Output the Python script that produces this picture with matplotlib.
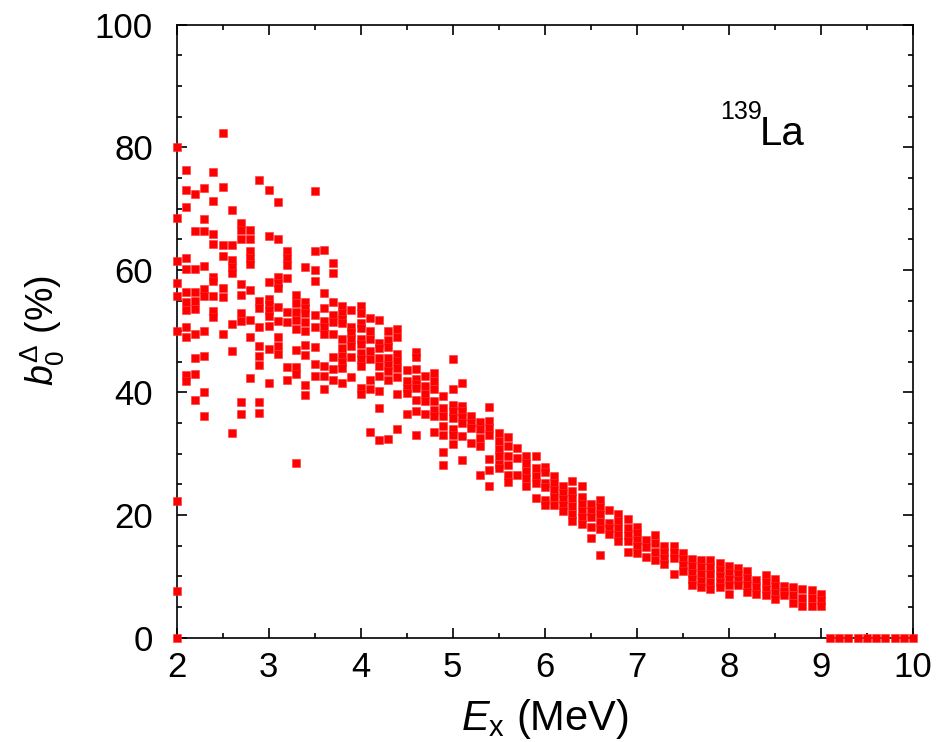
import numpy as np
import matplotlib
matplotlib.use("Agg")
from matplotlib import pyplot as plt
from matplotlib.ticker import MultipleLocator

plt.rcParams['font.family'] = ['Liberation Sans', 'DejaVu Sans']
plt.rcParams['mathtext.fontset'] = 'custom'
plt.rcParams['mathtext.rm'] = 'Liberation Sans'
plt.rcParams['mathtext.it'] = 'Liberation Sans:italic'

# excitation energy grid, MeV (0.1 MeV bins)
ex_low = [2.0, 2.1, 2.2, 2.3, 2.4, 2.5, 2.6, 2.7, 2.8, 2.9, 3.0,
          3.1, 3.2, 3.3, 3.4, 3.5, 3.6, 3.7, 3.8, 3.9, 4.0]
ex_mid = [4.1, 4.2, 4.3, 4.4, 4.5, 4.6, 4.7, 4.8, 4.9, 5.0,
          5.1, 5.2, 5.3, 5.4, 5.5, 5.6, 5.7, 5.8, 5.9, 6.0]
ex_high = [6.1, 6.2, 6.3, 6.4, 6.5, 6.6, 6.7, 6.8, 6.9, 7.0,
           7.1, 7.2, 7.3, 7.4, 7.5, 7.6, 7.7, 7.8, 7.9, 8.0,
           8.1, 8.2, 8.3, 8.4, 8.5, 8.6, 8.7, 8.8, 8.9, 9.0]
ex_tail = [9.1, 9.2, 9.3, 9.4, 9.5, 9.6, 9.7, 9.8, 9.9, 10.0]

# b0 (%) values found in each bin
b0_low = [
    [80.0, 68.4, 61.5, 57.8, 55.7, 50.1, 22.3, 7.6, 0.0],
    [76.3, 73.1, 70.3, 62.0, 60.1, 56.4, 54.7, 53.5, 50.7, 49.1, 42.9, 41.8],
    [72.4, 66.3, 60.1, 56.4, 54.9, 53.6, 49.6, 45.7, 43.0, 38.7],
    [73.3, 68.3, 66.3, 60.7, 56.9, 55.8, 50.1, 46.0, 40.1, 36.2],
    [75.9, 71.3, 65.9, 64.3, 58.9, 58.2, 55.7, 53.3, 52.3],
    [82.3, 73.5, 64.1, 62.3, 57.1, 55.5, 49.6],
    [69.8, 64.1, 61.6, 60.5, 59.5, 51.2, 46.8, 33.4],
    [67.6, 66.5, 65.0, 57.7, 55.9, 53.0, 51.6, 38.5, 36.4],
    [66.5, 65.0, 63.0, 62.0, 61.0, 56.7, 51.9, 49.1, 42.3],
    [74.6, 54.9, 53.7, 50.7, 47.5, 46.0, 44.4, 38.5, 36.6],
    [73.1, 65.5, 58.1, 55.3, 54.4, 53.5, 52.5, 50.8, 47.1, 41.6],
    [71.0, 65.0, 58.9, 57.9, 57.0, 54.0, 51.7, 49.0, 47.5, 46.2],
    [63.0, 62.0, 60.8, 58.7, 53.2, 51.5, 44.2, 42.1],
    [55.9, 54.6, 53.2, 51.9, 50.3, 47.0, 44.2, 43.0, 28.5],
    [60.5, 54.7, 53.8, 53.0, 51.5, 50.1, 47.7, 46.1, 41.2, 39.5],
    [72.8, 63.0, 59.9, 58.2, 52.7, 50.6, 47.4, 44.7, 42.6],
    [63.2, 56.2, 53.8, 51.6, 50.6, 49.6, 44.3, 42.6, 40.6],
    [61.2, 59.5, 54.7, 52.7, 51.5, 49.6, 45.8, 43.8, 42.0],
    [54.1, 53.0, 52.0, 51.3, 48.7, 47.3, 45.9, 44.9, 44.0, 41.6],
    [53.5, 50.7, 49.9, 48.8, 47.6, 45.8, 42.5],
    [54.1, 53.0, 51.4, 50.5, 48.8, 47.9, 46.5, 45.4, 44.3, 40.7, 39.7],
]
b0_mid = [
    [52.2, 50.0, 48.7, 46.7, 45.4, 42.0, 40.5, 33.6],
    [51.9, 48.1, 47.3, 45.6, 44.3, 42.7, 40.3, 37.5, 32.3],
    [50.0, 48.6, 47.4, 45.6, 44.5, 43.5, 42.1, 32.4],
    [50.4, 49.0, 46.2, 45.1, 44.0, 42.5, 39.8, 34.0],
    [43.6, 41.8, 40.8, 39.9, 36.4],
    [46.6, 45.8, 43.9, 42.2, 41.4, 40.7, 38.7, 36.9, 33.1],
    [42.6, 41.0, 39.8, 38.6, 36.5],
    [43.2, 41.8, 40.5, 38.6, 37.2, 36.1, 33.6],
    [39.4, 37.5, 36.1, 34.6, 33.1, 30.3, 28.2],
    [45.5, 40.5, 38.0, 37.0, 35.8, 34.0, 33.0, 31.6],
    [41.6, 37.8, 36.9, 36.0, 35.0, 32.9, 28.9],
    [36.1, 35.0, 34.2, 31.8],
    [35.2, 34.0, 32.6, 31.2, 26.5],
    [37.6, 35.3, 34.2, 33.1, 29.2, 27.3, 24.7],
    [33.4, 32.0, 30.8, 29.6, 28.4, 27.6],
    [32.7, 31.2, 29.6, 28.1, 26.6, 25.4],
    [30.9, 29.3, 26.5],
    [29.7, 28.5, 27.2, 26.0, 24.8],
    [29.6, 27.6, 26.4, 25.2, 22.8],
    [27.9, 27.0, 25.2, 24.6, 22.5, 21.7],
]
b0_high = [
    [26.3, 25.2, 24.0, 22.9, 21.7],
    [24.7, 23.6, 22.6, 21.6, 20.7],
    [25.6, 23.9, 22.7, 21.5, 20.2, 19.0],
    [24.7, 23.0, 21.8, 20.7, 19.7, 18.6],
    [21.8, 20.7, 19.6, 18.1, 16.2],
    [22.5, 21.3, 20.1, 18.9, 17.7, 13.5],
    [20.8, 18.7, 17.8, 16.9],
    [20.1, 19.0, 17.9, 16.8, 15.7],
    [19.3, 17.9, 16.8, 15.7, 14.0],
    [18.1, 17.0, 15.9, 14.9, 13.8],
    [15.9, 14.8, 13.2],
    [16.7, 15.4, 14.0, 12.7],
    [15.0, 14.0, 13.0, 12.0],
    [14.9, 13.9, 13.0, 10.4],
    [13.8, 12.8, 11.8, 10.8],
    [12.8, 11.7, 10.6, 9.6, 8.6],
    [12.7, 11.5, 10.3, 9.3, 8.3],
    [12.7, 11.5, 10.3, 9.1, 8.0],
    [12.2, 11.0, 10.0, 9.1, 8.3],
    [11.6, 10.6, 9.5, 8.5, 7.1],
    [11.3, 10.3, 9.4, 8.5],
    [10.9, 9.7, 8.6, 7.4],
    [9.4, 8.2, 7.1],
    [10.2, 9.1, 8.0, 6.9],
    [9.5, 8.4, 7.3, 6.3],
    [8.4, 7.6, 6.9],
    [8.2, 7.0, 5.7],
    [7.9, 6.5, 5.2],
    [7.8, 6.4, 5.1],
    [7.1, 6.1, 5.2],
]
b0_tail = [[0.0]] * len(ex_tail)

ex_all = ex_low + ex_mid + ex_high + ex_tail
b0_all = b0_low + b0_mid + b0_high + b0_tail
xs = [e for e, col in zip(ex_all, b0_all) for _ in col]
ys = [v for col in b0_all for v in col]

fig = plt.figure(figsize=(9.48, 7.42), dpi=100)
ax = fig.add_axes([0.1862, 0.1408, 0.7768, 0.8258])

ax.plot(xs, ys, linestyle='none', marker='s', markersize=5.2,
        markerfacecolor='#ff0000', markeredgecolor='#ff3030',
        markeredgewidth=0.4, clip_on=False, zorder=3)

ax.set_xlim(2, 10)
ax.set_ylim(0, 100)
ax.xaxis.set_major_locator(MultipleLocator(1))
ax.xaxis.set_minor_locator(MultipleLocator(0.5))
ax.yaxis.set_major_locator(MultipleLocator(20))
ax.yaxis.set_minor_locator(MultipleLocator(5))
ax.tick_params(which='both', direction='in', top=True, right=True,
               labelsize=25, width=1.2)
ax.tick_params(axis='x', pad=10)
ax.tick_params(axis='y', pad=17)
ax.tick_params(which='major', length=7)
ax.tick_params(which='minor', length=3.5)
for sp in ax.spines.values():
    sp.set_linewidth(1.2)

ax.set_xlabel(r'$E_{\rm x}$ (MeV)', fontsize=30, labelpad=9)
ax.set_ylabel(r'$b_0^{\Delta}$ (%)', fontsize=27, labelpad=20)

ax.text(0.738, 0.846, '139', transform=ax.transAxes,
        fontsize=18, ha='left', va='baseline')
ax.text(0.792, 0.803, 'La', transform=ax.transAxes,
        fontsize=29, ha='left', va='baseline')

fig.savefig('out.png', dpi=100)
